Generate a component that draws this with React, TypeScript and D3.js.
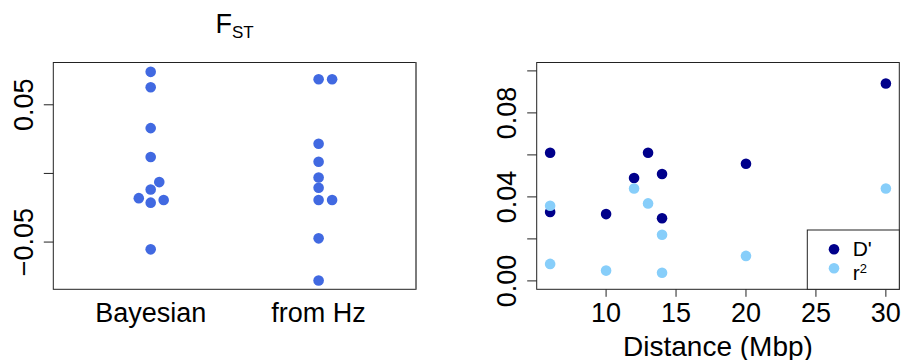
import React from "react";
import * as d3 from "d3";

// ---------- data ----------
const groups = ["Bayesian", "from Hz"];
const bayesianFst = [0.074, 0.0628, 0.033, 0.012, -0.0063, -0.0117, -0.018, -0.0213, -0.0194, -0.0553];
const fromHzFst = [0.0686, 0.0686, 0.0216, 0.0085, -0.003, -0.0104, -0.0194, -0.0194, -0.0473, -0.078];
const fstTicks = [-0.05, 0, 0.05];
const fstTickLabels = ["\u22120.05", "", "0.05"];

const distance = [6, 6, 10, 12, 13, 14, 14, 20, 30];
const dPrime = [0.061, 0.0328, 0.0318, 0.049, 0.061, 0.0509, 0.0298, 0.0558, 0.094];
const distanceR = [6, 6, 10, 12, 13, 14, 14, 20, 30];
const rSquared = [0.0358, 0.0081, 0.0049, 0.044, 0.0369, 0.022, 0.0039, 0.0119, 0.044];
const ldTicks = [0, 0.02, 0.04, 0.06, 0.08, 0.1];
const ldTickLabels = ["0.00", "", "0.04", "", "0.08", ""];
const distTicks = [10, 15, 20, 25, 30];

const FONT = "'Liberation Sans', Arial, Helvetica, sans-serif";
const C_FST = "#4169E1";
const C_D = "#00008B";
const C_R = "#87CEFA";

// swarm layout (R beeswarm-like): ascending order, smallest offset, positive side first
function swarm(ys: number[], ax: number, by: number): number[] {
  const order = ys.map((y, i) => i).sort((a, b) => ys[b] - ys[a] || a - b);
  const placed: { x: number; y: number }[] = [];
  const out = new Array(ys.length).fill(0);
  for (const i of order) {
    const y = ys[i];
    const cands = [0];
    for (const p of placed) {
      const dy = Math.abs(p.y - y);
      if (dy < by) {
        const dx = ax * Math.sqrt(1 - (dy / by) ** 2);
        cands.push(p.x + dx, p.x - dx);
      }
    }
    const ok = (x: number) =>
      placed.every((p) => ((p.x - x) / ax) ** 2 + ((p.y - y) / by) ** 2 >= 0.999);
    const valid = cands.filter(ok).sort((a, b) => Math.abs(a) - Math.abs(b) || b - a);
    const x = valid[0];
    placed.push({ x, y });
    out[i] = x;
  }
  return out;
}

export default function App() {
  const W = 901, H = 360;
  const top = 62.5, bottom = 289.3;
  const R = 5.3;

  const lx = d3.scaleLinear().domain([0.42, 2.58]).range([53.3, 416]);
  const ly = d3.scaleLinear().domain([-0.0844, 0.0808]).range([bottom, top]);
  const series = [bayesianFst, fromHzFst];

  const rx = d3.scaleLinear().domain([5.04, 30.96]).range([536.7, 899.3]);
  const ry = d3.scaleLinear().domain([-0.004, 0.104]).range([bottom, top]);

  const tickY = 9.5, tickX = 7.5;
  const fs = 27;

  return (
    <svg width={W} height={H} style={{ display: "block", position: "absolute", left: 0, top: 0 }} fontFamily={FONT}>
      <rect width={W} height={H} fill="#fff" />
      {/* ---------- left panel ---------- */}
      <text x={(lx.range()[0] + lx.range()[1]) / 2} y={33} textAnchor="middle" fontSize={27} fill="#000">
        F<tspan fontSize={17} dy={5.3}>ST</tspan>
      </text>
      {series.map((vals, g) => {
        const ys = vals.map((v) => ly(v));
        const offs = swarm(ys, 13.5, 9.6);
        return vals.map((v, i) => (
          <circle key={`f${g}-${i}`} cx={lx(g + 1) + offs[i]} cy={ys[i]} r={R} fill={C_FST} />
        ));
      })}
      <rect x={lx.range()[0]} y={top} width={lx.range()[1] - lx.range()[0]} height={bottom - top} fill="none" stroke="#222" strokeWidth={1} />
      <line x1={lx.range()[1]} x2={lx.range()[1]} y1={top} y2={bottom} stroke="#777" strokeWidth={1.6} />
      {fstTicks.map((t, i) => (
        <g key={`ft${i}`}>
          <line x1={lx.range()[0] - tickY} x2={lx.range()[0]} y1={ly(t)} y2={ly(t)} stroke="#222" />
          {fstTickLabels[i] && (
            <text transform={`translate(${lx.range()[0] - tickY - 11},${ly(t)}) rotate(-90)`} textAnchor="middle" fontSize={fs} fill="#000">
              {fstTickLabels[i]}
            </text>
          )}
        </g>
      ))}
      {groups.map((g, i) => (
        <text key={g} x={lx(i + 1)} y={321.7} textAnchor="middle" fontSize={fs} fill="#000">{g}</text>
      ))}

      {/* ---------- right panel ---------- */}
      {distance.map((d, i) => (
        <circle key={`d${i}`} cx={rx(d)} cy={ry(dPrime[i])} r={R} fill={C_D} />
      ))}
      {distanceR.map((d, i) => (
        <circle key={`r${i}`} cx={rx(d)} cy={ry(rSquared[i])} r={R} fill={C_R} />
      ))}
      <rect x={rx.range()[0]} y={top} width={rx.range()[1] - rx.range()[0]} height={bottom - top} fill="none" stroke="#222" strokeWidth={1} />
      {ldTicks.map((t, i) => (
        <g key={`lt${i}`}>
          <line x1={rx.range()[0] - tickY} x2={rx.range()[0]} y1={ry(t)} y2={ry(t)} stroke="#222" />
          {ldTickLabels[i] && (
            <text transform={`translate(${rx.range()[0] - tickY - 11},${ry(t)}) rotate(-90)`} textAnchor="middle" fontSize={fs} fill="#000">
              {ldTickLabels[i]}
            </text>
          )}
        </g>
      ))}
      {distTicks.map((t) => (
        <g key={`dt${t}`}>
          <line x1={rx(t)} x2={rx(t)} y1={bottom} y2={bottom + tickX} stroke="#222" />
          <text x={rx(t)} y={321.7} textAnchor="middle" fontSize={fs} fill="#000">{t}</text>
        </g>
      ))}
      <text x={(rx.range()[0] + rx.range()[1]) / 2} y={355.5} textAnchor="middle" fontSize={28} fill="#000">
        Distance (Mbp)
      </text>
      {/* legend */}
      <rect x={807.3} y={230} width={rx.range()[1] - 807.3} height={bottom - 230} fill="#fff" stroke="#222" strokeWidth={1} />
      <circle cx={834} cy={249.3} r={R} fill={C_D} />
      <circle cx={834} cy={268.3} r={R} fill={C_R} />
      <text x={852.7} y={255.5} fontSize={21} fill="#000">D'</text>
      <text x={852.7} y={280} fontSize={21} fill="#000">
        r<tspan fontSize={13} dy={-7}>2</tspan>
      </text>
    </svg>
  );
}
